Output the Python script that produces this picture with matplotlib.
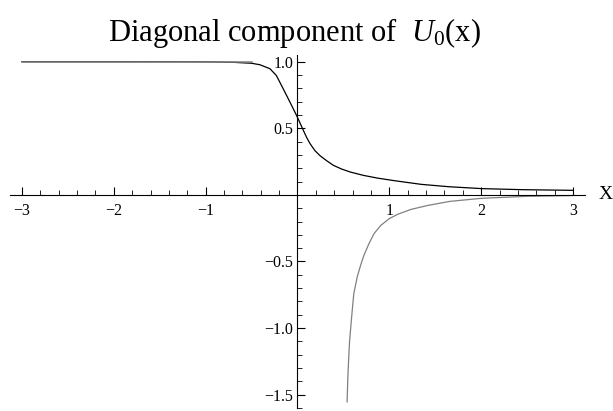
import matplotlib.pyplot as plt
from matplotlib.ticker import MultipleLocator

# diagonal entries of U_0(x), sampled by hand
x_upper = [-3.0, -2.0, -1.0, -0.7, -0.5, -0.41, -0.3, -0.23, -0.156, -0.082, -0.01,
           0.064, 0.1, 0.137, 0.19, 0.247, 0.32, 0.393, 0.48, 0.577, 0.72, 0.87, 1.05,
           1.346, 1.65, 2.005, 2.445, 3.0]
y_upper = [1.0, 1.0, 0.999, 0.995, 0.988, 0.977, 0.947, 0.896, 0.797, 0.696, 0.596,
           0.484, 0.43, 0.384, 0.332, 0.293, 0.255, 0.221, 0.194, 0.171, 0.146, 0.126, 0.107,
           0.079, 0.061, 0.047, 0.039, 0.034]

x_flat = [-3.0, -0.5]
y_flat = [1.0, 1.0]

x_lower = [0.54, 0.548, 0.558, 0.567, 0.577, 0.596, 0.613, 0.65, 0.687, 0.723, 0.778,
           0.833, 0.907, 0.998, 1.09, 1.236, 1.42, 1.657, 2.0, 2.5, 3.0]
y_lower = [-1.554, -1.37, -1.217, -1.1, -1.016, -0.866, -0.741, -0.616, -0.529, -0.454, -0.366,
           -0.291, -0.229, -0.179, -0.146, -0.109, -0.079, -0.049, -0.026, -0.011, -0.005]

x_ticks = [-3, -2, -1, 1, 2, 3]
y_ticks = [-1.5, -1.0, -0.5, 0.5, 1.0]

plt.rcParams['font.family'] = ['Liberation Serif', 'DejaVu Serif']
plt.rcParams['mathtext.fontset'] = 'custom'
plt.rcParams['mathtext.rm'] = 'Liberation Serif'
plt.rcParams['mathtext.it'] = 'Liberation Serif:italic'

fig = plt.figure(figsize=(6.13, 4.11), dpi=100)
ax = fig.add_axes([10 / 613, 3 / 411, 575 / 613, 353 / 411])

ax.plot(x_upper, y_upper, color='black', lw=0.9, solid_joinstyle='round')
ax.plot(x_flat, y_flat, color='#808080', lw=1.1)
ax.plot(x_lower, y_lower, color='#808080', lw=0.9, solid_joinstyle='round')

ax.set_xlim(-3.13, 3.13)
ax.set_ylim(-1.6, 1.05)

# axes crossing at the origin
for side in ['top', 'right']:
    ax.spines[side].set_visible(False)
ax.spines['left'].set_position(('data', 0))
ax.spines['bottom'].set_position(('data', 0))
for side in ['left', 'bottom']:
    ax.spines[side].set_linewidth(0.8)

ax.set_xticks(x_ticks)
ax.set_xticklabels([str(t).replace('-', '\u2212') for t in x_ticks])
ax.set_yticks(y_ticks)
ax.set_yticklabels([f'{t:.1f}'.replace('-', '\u2212') for t in y_ticks])
ax.xaxis.set_minor_locator(MultipleLocator(0.2))
ax.yaxis.set_minor_locator(MultipleLocator(0.1))
ax.tick_params(axis='x', which='major', direction='in', length=6, width=0.8, labelsize=11.5, pad=6)
ax.tick_params(axis='x', which='minor', direction='in', length=3.5, width=0.6)
ax.tick_params(axis='y', which='major', direction='in', length=6, width=0.8, labelsize=11.5, pad=3)
ax.tick_params(axis='y', which='minor', direction='in', length=3.5, width=0.6)

ax.text(3.28, 0, 'X', fontsize=14, ha='left', va='center')
fig.text(0.481, 0.92, r'Diagonal component of  $U_0$(x)', fontsize=22, ha='center', va='center')

fig.savefig('out.png', dpi=100)
